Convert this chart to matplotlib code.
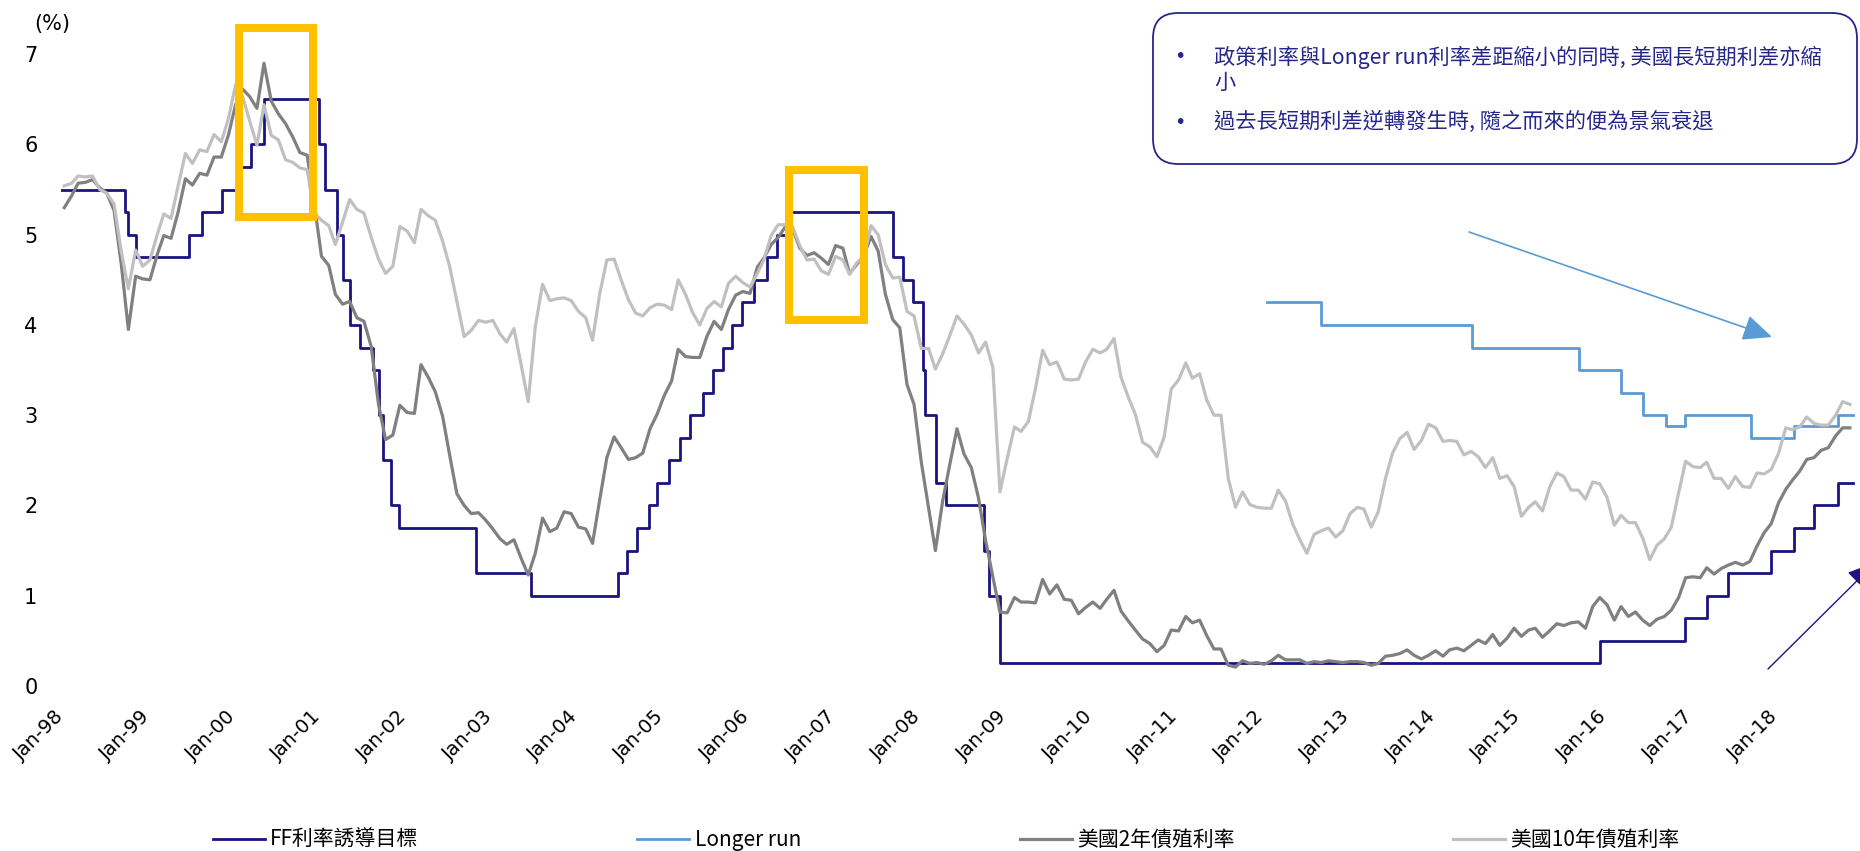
import matplotlib
matplotlib.use('Agg')
import matplotlib.pyplot as plt
import matplotlib.dates as mdates
from matplotlib.patches import Rectangle, FancyBboxPatch, FancyArrowPatch
from matplotlib.transforms import IdentityTransform
import pandas as pd

plt.rcParams['font.family'] = ['Noto Sans CJK TC', 'DejaVu Sans']

# ---- data ----
# FF target rate: change dates and level from that date on
FF_DATES = ['1998-01-01', '1998-09-29', '1998-10-15', '1998-11-17', '1999-06-30',
            '1999-08-24', '1999-11-16', '2000-02-02', '2000-03-21', '2000-05-16',
            '2001-01-03', '2001-01-31', '2001-03-20', '2001-04-18', '2001-05-15',
            '2001-06-27', '2001-08-21', '2001-09-17', '2001-10-02', '2001-11-06',
            '2001-12-11', '2002-11-06', '2003-06-25', '2004-06-30', '2004-08-10',
            '2004-09-21', '2004-11-10', '2004-12-14', '2005-02-02', '2005-03-22',
            '2005-05-03', '2005-06-30', '2005-08-09', '2005-09-20', '2005-11-01',
            '2005-12-13', '2006-01-31', '2006-03-28', '2006-05-10', '2006-06-29',
            '2007-09-18', '2007-10-31', '2007-12-11', '2008-01-22', '2008-01-30',
            '2008-03-18', '2008-04-30', '2008-10-08', '2008-10-29', '2008-12-16',
            '2015-12-16', '2016-12-14', '2017-03-15', '2017-06-14', '2017-12-13',
            '2018-03-21', '2018-06-13', '2018-09-26', '2018-11-30']
FF_RATES = [5.50, 5.25, 5.00, 4.75, 5.00,
            5.25, 5.50, 5.75, 6.00, 6.50,
            6.00, 5.50, 5.00, 4.50, 4.00,
            3.75, 3.50, 3.00, 2.50, 2.00,
            1.75, 1.25, 1.00, 1.25, 1.50,
            1.75, 2.00, 2.25, 2.50, 2.75,
            3.00, 3.25, 3.50, 3.75, 4.00,
            4.25, 4.50, 4.75, 5.00, 5.25,
            4.75, 4.50, 4.25, 3.50, 3.00,
            2.25, 2.00, 1.50, 1.00, 0.25,
            0.50, 0.75, 1.00, 1.25, 1.50,
            1.75, 2.00, 2.25, 2.25]

# FOMC longer-run projection
LR_DATES = ['2012-01-25', '2012-09-13', '2014-06-18', '2015-09-17', '2016-03-16',
            '2016-06-15', '2016-09-21', '2016-12-14', '2017-09-20', '2018-03-21',
            '2018-09-26', '2018-11-30']
LR_RATES = [4.25, 4.00, 3.75, 3.50, 3.25,
            3.00, 2.875, 3.00, 2.75, 2.875,
            3.00, 3.00]

# monthly readings, Jan-1998 .. Nov-2018
Y2 = [5.30, 5.43, 5.57, 5.58, 5.61, 5.52, 5.46, 5.27, 4.67, 3.95, 4.54, 4.51,   # 1998
      4.50, 4.78, 4.99, 4.96, 5.25, 5.62, 5.55, 5.68, 5.66, 5.86, 5.86, 6.10,   # 1999
      6.44, 6.61, 6.53, 6.40, 6.90, 6.48, 6.34, 6.23, 6.08, 5.91, 5.88, 5.35,   # 2000
      4.76, 4.66, 4.34, 4.23, 4.26, 4.08, 4.04, 3.76, 3.12, 2.73, 2.78, 3.11,   # 2001
      3.03, 3.02, 3.56, 3.42, 3.26, 2.99, 2.56, 2.13, 2.00, 1.91, 1.92, 1.84,   # 2002
      1.74, 1.63, 1.57, 1.62, 1.42, 1.23, 1.47, 1.86, 1.71, 1.75, 1.93, 1.91,   # 2003
      1.76, 1.74, 1.58, 2.07, 2.53, 2.76, 2.64, 2.51, 2.53, 2.58, 2.85, 3.01,   # 2004
      3.22, 3.38, 3.73, 3.65, 3.64, 3.64, 3.87, 4.04, 3.95, 4.17, 4.33, 4.37,   # 2005
      4.35, 4.64, 4.74, 4.89, 4.97, 5.09, 5.07, 4.85, 4.77, 4.80, 4.74, 4.67,   # 2006
      4.88, 4.85, 4.57, 4.67, 4.77, 4.98, 4.82, 4.34, 4.06, 3.97, 3.34, 3.12,   # 2007
      2.48, 1.97, 1.50, 2.05, 2.45, 2.85, 2.57, 2.42, 2.08, 1.61, 1.21, 0.82,   # 2008
      0.81, 0.98, 0.93, 0.93, 0.92, 1.18, 1.02, 1.12, 0.96, 0.95, 0.80, 0.87,   # 2009
      0.93, 0.86, 0.96, 1.06, 0.83, 0.72, 0.62, 0.52, 0.47, 0.38, 0.45, 0.62,   # 2010
      0.61, 0.77, 0.70, 0.73, 0.56, 0.41, 0.41, 0.23, 0.21, 0.28, 0.25, 0.26,   # 2011
      0.24, 0.28, 0.34, 0.29, 0.29, 0.29, 0.25, 0.27, 0.26, 0.28, 0.27, 0.26,   # 2012
      0.27, 0.27, 0.26, 0.23, 0.25, 0.33, 0.34, 0.36, 0.40, 0.34, 0.30, 0.34,   # 2013
      0.39, 0.33, 0.40, 0.42, 0.39, 0.45, 0.51, 0.47, 0.57, 0.45, 0.53, 0.64,   # 2014
      0.55, 0.62, 0.64, 0.54, 0.61, 0.69, 0.67, 0.70, 0.71, 0.64, 0.88, 0.98,   # 2015
      0.90, 0.73, 0.88, 0.77, 0.82, 0.73, 0.67, 0.74, 0.77, 0.84, 0.98, 1.20,   # 2016
      1.21, 1.20, 1.31, 1.24, 1.30, 1.34, 1.37, 1.34, 1.38, 1.55, 1.70, 1.80,   # 2017
      2.03, 2.18, 2.28, 2.38, 2.51, 2.53, 2.61, 2.64, 2.77, 2.86, 2.86]         # 2018

Y10 = [5.54, 5.57, 5.65, 5.64, 5.65, 5.50, 5.46, 5.34, 4.81, 4.40, 4.83, 4.65,  # 1998
       4.72, 5.00, 5.23, 5.18, 5.54, 5.90, 5.79, 5.94, 5.92, 6.11, 6.03, 6.28,  # 1999
       6.66, 6.52, 6.26, 5.99, 6.44, 6.10, 6.05, 5.83, 5.80, 5.74, 5.72, 5.24,  # 2000
       5.16, 5.10, 4.89, 5.14, 5.39, 5.28, 5.24, 4.97, 4.73, 4.57, 4.65, 5.09,  # 2001
       5.04, 4.91, 5.28, 5.21, 5.16, 4.93, 4.65, 4.26, 3.87, 3.94, 4.05, 4.03,  # 2002
       4.05, 3.90, 3.81, 3.96, 3.57, 3.15, 3.98, 4.45, 4.27, 4.29, 4.30, 4.27,  # 2003
       4.15, 4.08, 3.83, 4.35, 4.72, 4.73, 4.50, 4.28, 4.13, 4.10, 4.19, 4.23,  # 2004
       4.22, 4.17, 4.50, 4.34, 4.14, 4.00, 4.18, 4.26, 4.20, 4.46, 4.54, 4.47,  # 2005
       4.42, 4.57, 4.72, 4.99, 5.11, 5.11, 5.09, 4.88, 4.72, 4.73, 4.60, 4.56,  # 2006
       4.76, 4.72, 4.56, 4.69, 4.75, 5.10, 5.00, 4.67, 4.52, 4.53, 4.15, 4.10,  # 2007
       3.74, 3.74, 3.51, 3.68, 3.88, 4.10, 4.01, 3.89, 3.69, 3.81, 3.53, 2.15,  # 2008
       2.52, 2.87, 2.82, 2.93, 3.29, 3.72, 3.56, 3.59, 3.40, 3.39, 3.40, 3.59,  # 2009
       3.73, 3.69, 3.73, 3.85, 3.42, 3.20, 3.01, 2.70, 2.65, 2.54, 2.76, 3.29,  # 2010
       3.39, 3.58, 3.41, 3.46, 3.17, 3.00, 3.00, 2.30, 1.98, 2.15, 2.01, 1.98,  # 2011
       1.97, 1.97, 2.17, 2.05, 1.80, 1.62, 1.47, 1.68, 1.72, 1.75, 1.65, 1.72,  # 2012
       1.91, 1.98, 1.96, 1.76, 1.93, 2.30, 2.58, 2.74, 2.81, 2.62, 2.72, 2.90,  # 2013
       2.86, 2.71, 2.72, 2.71, 2.56, 2.60, 2.54, 2.42, 2.53, 2.30, 2.33, 2.21,  # 2014
       1.88, 1.98, 2.04, 1.94, 2.20, 2.36, 2.32, 2.17, 2.17, 2.07, 2.26, 2.24,  # 2015
       2.09, 1.78, 1.89, 1.81, 1.81, 1.64, 1.40, 1.56, 1.63, 1.76, 2.14, 2.49,  # 2016
       2.43, 2.42, 2.48, 2.30, 2.30, 2.19, 2.32, 2.21, 2.20, 2.36, 2.35, 2.40,  # 2017
       2.58, 2.86, 2.84, 2.87, 2.98, 2.91, 2.89, 2.89, 3.00, 3.15, 3.12]        # 2018

MONTHS = pd.date_range('1998-01-01', periods=len(Y2), freq='MS') + pd.Timedelta(days=14)

# highlighted periods (start, end, low, high)
HIGHLIGHTS = [('2000-01-28', '2000-12-10', 5.20, 7.29),
              ('2006-07-01', '2007-05-17', 4.05, 5.72)]

LEGEND_LABELS = ['FF利率誘導目標', 'Longer run', '美國2年債殖利率', '美國10年債殖利率']
NOTE_LINES = ['政策利率與Longer run利率差距縮小的同時, 美國長短期利差亦縮', '小',
              '過去長短期利差逆轉發生時, 隨之而來的便為景氣衰退']

NAVY = '#1A1480'
BLUE = '#5B9BD5'
GRAY2 = '#808080'
GRAY10 = '#C0C0C0'
ORANGE = '#FFC000'
TEXT_BLUE = '#26268A'

W, H = 1860, 851


def fx(x):
    return x / W


def fy(y):
    return 1 - y / H


fig = plt.figure(figsize=(W / 100, H / 100), dpi=100)
ax = fig.add_axes([fx(61), fy(686), 1 - fx(61), 686 / H])

ff, = ax.plot(pd.to_datetime(FF_DATES), FF_RATES, drawstyle='steps-post',
              color=NAVY, lw=2.0, zorder=2)
lr, = ax.plot(pd.to_datetime(LR_DATES), LR_RATES, drawstyle='steps-post',
              color=BLUE, lw=2.0, zorder=2)
y2, = ax.plot(MONTHS, Y2, color=GRAY2, lw=2.3, zorder=3)
y10, = ax.plot(MONTHS, Y10, color=GRAY10, lw=2.3, zorder=4)

for start, end, lo, hi in HIGHLIGHTS:
    x0 = mdates.date2num(pd.Timestamp(start))
    x1 = mdates.date2num(pd.Timestamp(end))
    ax.add_patch(Rectangle((x0, lo), x1 - x0, hi - lo, fill=False,
                           edgecolor=ORANGE, lw=5.8, joinstyle='miter',
                           zorder=6, clip_on=False))

ax.set_xlim(pd.Timestamp('1998-01-01'), pd.Timestamp('2018-12-28'))
ax.set_ylim(0, 7.6)
ax.set_yticks(range(0, 8))
ax.set_yticklabels([str(v) for v in range(0, 8)], family='DejaVu Sans', fontsize=15)
xt = pd.date_range('1998-01-01', '2018-01-01', freq='YS')
ax.set_xticks(xt)
ax.set_xticklabels([d.strftime('%b-%y') for d in xt], family='DejaVu Sans',
                   fontsize=14, rotation=45, ha='right', va='center',
                   rotation_mode='anchor')
ax.tick_params(axis='y', length=0, pad=17)
ax.tick_params(axis='x', length=0, pad=20)
for s in ax.spines.values():
    s.set_visible(False)

fig.text(fx(52), fy(24), '(%)', ha='center', va='center', fontsize=15,
         family='DejaVu Sans')

fig.legend([ff, lr, y2, y10], LEGEND_LABELS, loc='center left',
           bbox_to_anchor=(fx(213), fy(840)), ncol=4, frameon=False,
           fontsize=15, handlelength=2.5, handletextpad=0.25,
           columnspacing=10.5, borderpad=0, borderaxespad=0)

# note box
fig.add_artist(FancyBboxPatch((1153, H - 164), 704, 151,
                              boxstyle='round,pad=0,rounding_size=25',
                              transform=IdentityTransform(), facecolor='white',
                              edgecolor=TEXT_BLUE, lw=1.3, zorder=10))
for by in (57, 122):
    fig.text(fx(1180), fy(by), '•', ha='center', va='center', fontsize=14,
             family='DejaVu Sans', color=TEXT_BLUE, zorder=11)
for ty, line in zip((57, 83, 122), NOTE_LINES):
    fig.text(fx(1214), fy(ty), line, ha='left', va='center', fontsize=15.3,
             color=TEXT_BLUE, zorder=11)

# arrows
fig.add_artist(FancyArrowPatch((1469, H - 232), (1772, H - 337),
                               transform=IdentityTransform(),
                               arrowstyle='-|>,head_length=0.9,head_width=0.4',
                               mutation_scale=20, color=BLUE, lw=1.2,
                               shrinkA=0, shrinkB=0))
fig.add_artist(FancyArrowPatch((1768, H - 669), (1876, H - 562),
                               transform=IdentityTransform(),
                               arrowstyle='-|>,head_length=0.9,head_width=0.4',
                               mutation_scale=20, color=NAVY, lw=1.0,
                               shrinkA=0, shrinkB=0))

fig.savefig('out.png', dpi=100, facecolor='white')
plt.close(fig)
